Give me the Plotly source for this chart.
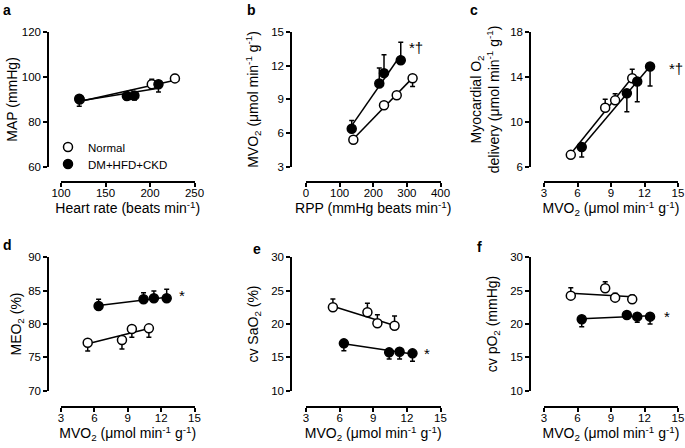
import numpy as np
import plotly.graph_objects as go

W, H = 685, 448

# ---------------- data ----------------
# Panel a: MAP vs heart rate
hr_normal = [121, 178, 202, 228]
map_normal = [90.0, 92.0, 96.8, 99.4]
map_normal_err = [1.0, 1.0, 2.2, 1.8]          # plotted upward
hr_dm = [120.5, 174, 182.5, 209.5]
map_dm = [90.3, 91.5, 91.8, 96.8]
map_dm_err = [3.3, 1.5, 2.1, 3.5]              # plotted downward

# Panel b: MVO2 vs RPP
rpp_normal = [140.8, 232, 269.8, 317]
rpp_dm = [136, 218, 232, 281.8]
mvo2_normal = [5.4, 8.48, 9.37, 10.9]
mvo2_dm = [6.38, 10.42, 11.35, 12.5]
mvo2_normal_err = [0.2, 0.3, 0.3, 0.75]        # downward
mvo2_dm_err = [0.75, 1.4, 1.65, 1.6]           # upward

# Panel c: myocardial O2 delivery vs MVO2
do2_normal = [7.05, 11.26, 11.92, 13.9]
do2_normal_err = [0.3, 0.75, 0.6, 0.8]         # upward
do2_dm = [7.75, 12.55, 13.6, 14.95]
do2_dm_err = [0.9, 1.65, 1.8, 1.75]            # downward

# Panel d: MEO2 vs MVO2
meo2_normal = [77.2, 77.6, 79.25, 79.35]
meo2_normal_err = [1.25, 1.35, 1.25, 1.35]     # downward
meo2_dm = [82.7, 83.7, 83.85, 83.85]
meo2_dm_err = [1.0, 1.0, 1.1, 1.35]            # upward

# Panel e: cv SaO2 vs MVO2
sao2_normal = [22.5, 21.75, 20.1, 19.75]
sao2_normal_err = [1.25, 1.35, 1.3, 1.45]      # upward
sao2_dm = [17.1, 15.75, 15.85, 15.6]
sao2_dm_err = [1.1, 1.0, 1.1, 1.2]             # downward

# Panel f: cv pO2 vs MVO2
po2_normal = [24.25, 25.35, 23.95, 23.7]
po2_normal_err = [1.2, 1.0, 0.65, 0.65]        # upward
po2_dm = [20.7, 21.35, 21.1, 21.1]
po2_dm_err = [1.1, 0.4, 0.85, 1.1]             # downward

FONT = "Liberation Sans, Arial, sans-serif"
SUB2 = "<sub>2</sub>"
UNIT = "(μmol min<sup>-1</sup> g<sup>-1</sup>)"

panels = [
    dict(xn=hr_normal, yn=map_normal, en=map_normal_err, up_n=True,
         xd=hr_dm, yd=map_dm, ed=map_dm_err,
         xr=[100, 250], dx=50, yr=[60, 120], dy=20,
         xt="Heart rate (beats min<sup>-1</sup>)", yt="MAP (mmHg)",
         star=None, letter="a"),
    dict(xn=rpp_normal, yn=mvo2_normal, en=mvo2_normal_err, up_n=False,
         xd=rpp_dm, yd=mvo2_dm, ed=mvo2_dm_err,
         xr=[0, 400], dx=100, yr=[3, 15], dy=3,
         xt="RPP (mmHg beats min<sup>-1</sup>)", yt="MVO" + SUB2 + " " + UNIT,
         star=("*†", 416, 48), letter="b"),
    dict(xn=mvo2_normal, yn=do2_normal, en=do2_normal_err, up_n=True,
         xd=mvo2_dm, yd=do2_dm, ed=do2_dm_err,
         xr=[3, 15], dx=3, yr=[6, 18], dy=4,
         xt="MVO" + SUB2 + " " + UNIT,
         yt="Myocardial O" + SUB2 + "<br>delivery " + UNIT,
         star=("*†", 676, 68), letter="c"),
    dict(xn=mvo2_normal, yn=meo2_normal, en=meo2_normal_err, up_n=False,
         xd=mvo2_dm, yd=meo2_dm, ed=meo2_dm_err,
         xr=[3, 15], dx=3, yr=[70, 90], dy=5,
         xt="MVO" + SUB2 + " " + UNIT, yt="MEO" + SUB2 + " (%)",
         star=("*", 182, 295), letter="d"),
    dict(xn=mvo2_normal, yn=sao2_normal, en=sao2_normal_err, up_n=True,
         xd=mvo2_dm, yd=sao2_dm, ed=sao2_dm_err,
         xr=[3, 15], dx=3, yr=[10, 30], dy=5,
         xt="MVO" + SUB2 + " " + UNIT, yt="cv SaO" + SUB2 + " (%)",
         star=("*", 427, 353), letter="e"),
    dict(xn=mvo2_normal, yn=po2_normal, en=po2_normal_err, up_n=True,
         xd=mvo2_dm, yd=po2_dm, ed=po2_dm_err,
         xr=[3, 15], dx=3, yr=[10, 30], dy=5,
         xt="MVO" + SUB2 + " " + UNIT, yt="cv pO" + SUB2 + " (mmHg)",
         star=("*", 667, 316), letter="f"),
]

# pixel layout of the 2x3 grid
col_xdom = [(61, 194.5), (306, 440.5), (544, 678)]
col_yline = [48, 291, 530]
row_ydom = [(32.3, 166.6), (257.3, 390.7)]
row_xline = [182, 407]
letter_pos = [(7, 10), (251, 10), (474, 10), (7, 245), (257, 249), (479, 247)]
ytitle_standoff = [0, 8, 6, 2, 8, 8]


def px(x):
    return x / W


def py(y):
    return 1 - y / H


fig = go.Figure()
layout = {}
annotations = []

for i, p in enumerate(panels):
    r, c = divmod(i, 3)
    k = "" if i == 0 else str(i + 1)
    xa, ya = "x" + k, "y" + k

    # regression lines
    for xs, ys in ((p["xn"], p["yn"]), (p["xd"], p["yd"])):
        xs_a, ys_a = np.array(xs, float), np.array(ys, float)
        m, b = np.polyfit(xs_a, ys_a, 1)
        lx = np.array([xs_a.min(), xs_a.max()])
        fig.add_trace(go.Scatter(x=lx, y=m * lx + b, mode="lines",
                                 line=dict(color="black", width=1.5),
                                 xaxis=xa, yaxis=ya, showlegend=False,
                                 hoverinfo="skip", cliponaxis=False))

    zeros = [0] * len(p["en"])
    err_n = dict(type="data", symmetric=False,
                 array=p["en"] if p["up_n"] else zeros,
                 arrayminus=zeros if p["up_n"] else p["en"],
                 color="black", thickness=1.5, width=2.5)
    zd = [0] * len(p["ed"])
    err_d = dict(type="data", symmetric=False,
                 array=zd if p["up_n"] else p["ed"],
                 arrayminus=p["ed"] if p["up_n"] else zd,
                 color="black", thickness=1.5, width=2.5)

    fig.add_trace(go.Scatter(x=p["xn"], y=p["yn"], mode="markers", name="Normal",
                             marker=dict(symbol="circle", size=9, color="white",
                                         line=dict(color="black", width=1.5)),
                             error_y=err_n, xaxis=xa, yaxis=ya, legend="legend",
                             showlegend=(i == 0), cliponaxis=False))
    fig.add_trace(go.Scatter(x=p["xd"], y=p["yd"], mode="markers", name="DM+HFD+CKD",
                             marker=dict(symbol="circle", size=9, color="black",
                                         line=dict(color="black", width=1.5)),
                             error_y=err_d, xaxis=xa, yaxis=ya, legend="legend2",
                             showlegend=(i == 0), cliponaxis=False))

    x0, x1 = col_xdom[c]
    y0, y1 = row_ydom[r]
    common = dict(showgrid=False, zeroline=False, showline=True, linecolor="black",
                  linewidth=1.5, ticks="outside", ticklen=4, tickwidth=1.5,
                  tickcolor="black", tickfont=dict(family=FONT, size=11.5, color="black"),
                  anchor="free", fixedrange=True, automargin=False)
    layout["xaxis" + k] = dict(common, domain=[px(x0), px(x1)], range=p["xr"],
                               tickmode="linear", tick0=p["xr"][0], dtick=p["dx"],
                               position=py(row_xline[r]), ticklabelstandoff=-4,
                               title=dict(text=p["xt"], standoff=0,
                                          font=dict(family=FONT, size=14, color="black")))
    layout["yaxis" + k] = dict(common, domain=[py(y1), py(y0)], range=p["yr"],
                               tickmode="linear", tick0=p["yr"][0], dtick=p["dy"],
                               position=px(col_yline[c]),
                               title=dict(text=p["yt"], standoff=ytitle_standoff[i],
                                          font=dict(family=FONT, size=14, color="black")))

    lx_, ly_ = letter_pos[i]
    annotations.append(dict(text="<b>" + p["letter"] + "</b>", x=px(lx_), y=py(ly_),
                            xref="paper", yref="paper", showarrow=False,
                            xanchor="center", yanchor="middle",
                            font=dict(family=FONT, size=14, color="black")))
    if p["star"]:
        t, sx, sy = p["star"]
        annotations.append(dict(text=t, x=px(sx), y=py(sy), xref="paper", yref="paper",
                                showarrow=False, xanchor="center", yanchor="middle",
                                font=dict(family=FONT, size=15, color="black")))

leg_common = dict(xanchor="left", yanchor="middle", bgcolor="rgba(0,0,0,0)",
                  font=dict(family=FONT, size=11.5, color="black"), itemwidth=30)
fig.update_layout(
    width=W, height=H, margin=dict(l=0, r=0, t=0, b=0, pad=0, autoexpand=False),
    paper_bgcolor="white", plot_bgcolor="white",
    font=dict(family=FONT, color="black"),
    showlegend=True,
    legend=dict(leg_common, x=px(48), y=py(147)),
    legend2=dict(leg_common, x=px(48), y=py(164)),
    annotations=annotations,
    **layout,
)

fig.write_html("out.html", config={"displayModeBar": False},
               post_script="document.body.style.margin='0px';"
                           "document.body.style.overflow='hidden';")
